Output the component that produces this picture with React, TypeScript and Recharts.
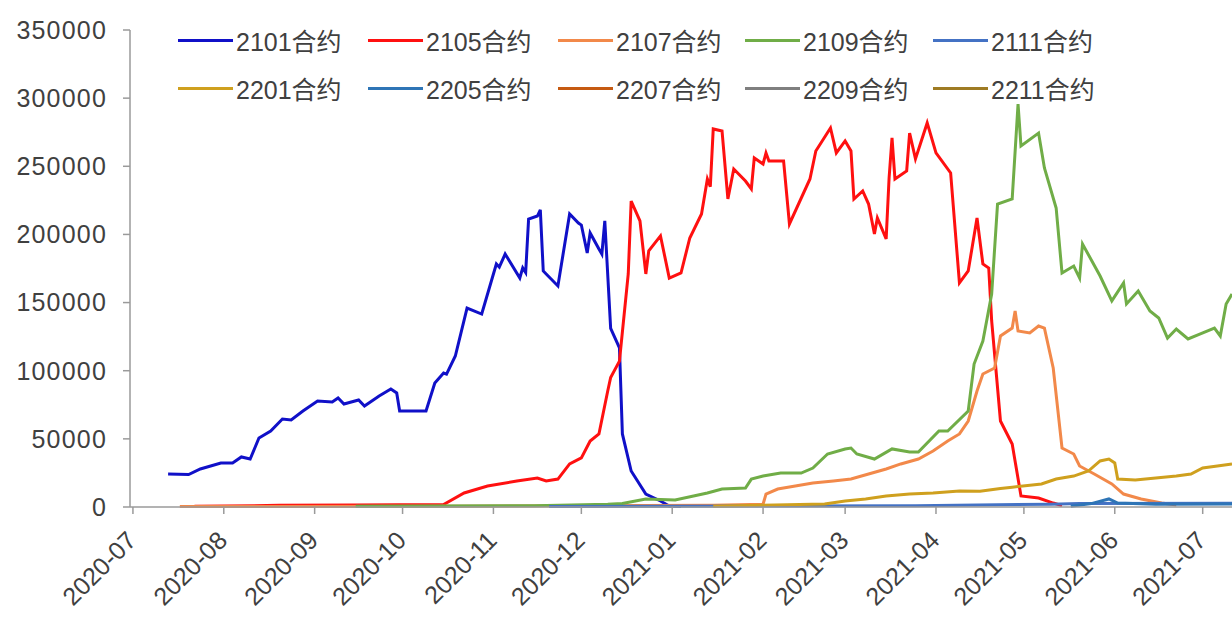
import { LineChart, Line, XAxis, YAxis } from "recharts";

type Pt = [string, number];

const contracts = ["2101合约", "2105合约", "2107合约", "2109合约", "2111合约", "2201合约", "2205合约", "2207合约", "2209合约", "2211合约"];
const colors = ["#1010c8", "#ff1010", "#f2894a", "#70ad47", "#4472c4", "#cfa01e", "#2e75b6", "#c55a11", "#7f7f7f", "#9e7b23"];

const monthTicks = ["2020-07", "2020-08", "2020-09", "2020-10", "2020-11", "2020-12", "2021-01", "2021-02", "2021-03", "2021-04", "2021-05", "2021-06", "2021-07"];
const yTicks = [0, 50000, 100000, 150000, 200000, 250000, 300000, 350000];

const s2101: Pt[] = [
  ["2020-07-13", 24200], ["2020-07-20", 23800], ["2020-07-24", 27900], ["2020-07-31", 32300],
  ["2020-08-04", 32300], ["2020-08-07", 36700], ["2020-08-10", 35200], ["2020-08-13", 50600],
  ["2020-08-17", 55800], ["2020-08-21", 64600], ["2020-08-24", 63800], ["2020-08-28", 70400],
  ["2020-09-02", 77800], ["2020-09-07", 77000], ["2020-09-09", 80000], ["2020-09-11", 75600],
  ["2020-09-16", 78500], ["2020-09-18", 74100], ["2020-09-23", 81500], ["2020-09-27", 86600],
  ["2020-09-29", 83700], ["2020-09-30", 70400], ["2020-10-09", 70400], ["2020-10-12", 91000],
  ["2020-10-15", 98300], ["2020-10-16", 97500], ["2020-10-19", 110800], ["2020-10-23", 146000],
  ["2020-10-28", 141600], ["2020-11-02", 178300], ["2020-11-03", 176000], ["2020-11-05", 185600],
  ["2020-11-10", 168000], ["2020-11-11", 175400], ["2020-11-12", 172000], ["2020-11-13", 211300],
  ["2020-11-16", 213500], ["2020-11-17", 218000], ["2020-11-18", 173200], ["2020-11-19", 171000],
  ["2020-11-23", 162200], ["2020-11-27", 215000], ["2020-11-30", 208400], ["2020-12-01", 206900],
  ["2020-12-03", 186400], ["2020-12-04", 201100], ["2020-12-07", 189300], ["2020-12-08", 185600],
  ["2020-12-09", 209900], ["2020-12-11", 131000], ["2020-12-14", 116700], ["2020-12-15", 53600],
  ["2020-12-18", 26400], ["2020-12-23", 9500], ["2020-12-28", 4400], ["2020-12-31", 700],
  ["2021-01-04", 300],
];

const s2105: Pt[] = [
  ["2020-07-22", 500], ["2020-08-20", 1200], ["2020-09-15", 1500], ["2020-10-15", 1800],
  ["2020-10-22", 10300], ["2020-10-30", 15400], ["2020-11-09", 19100], ["2020-11-16", 21300],
  ["2020-11-19", 19100], ["2020-11-23", 20500], ["2020-11-27", 31600], ["2020-12-01", 36000],
  ["2020-12-04", 48400], ["2020-12-07", 53600], ["2020-12-10", 85100], ["2020-12-11", 95000],
  ["2020-12-14", 107000], ["2020-12-17", 171000], ["2020-12-18", 224500], ["2020-12-21", 209900],
  ["2020-12-23", 171000], ["2020-12-24", 187900], ["2020-12-28", 198900], ["2020-12-31", 168000],
  ["2021-01-04", 171700], ["2021-01-07", 197400], ["2021-01-11", 215000], ["2021-01-13", 240700],
  ["2021-01-14", 235000], ["2021-01-15", 277400], ["2021-01-18", 275900], ["2021-01-20", 226000],
  ["2021-01-22", 248000], ["2021-01-26", 239200], ["2021-01-28", 233400], ["2021-01-29", 256100],
  ["2021-02-01", 251700], ["2021-02-02", 259800], ["2021-02-03", 253900], ["2021-02-08", 253900],
  ["2021-02-10", 207700], ["2021-02-17", 240700], ["2021-02-19", 261200], ["2021-02-24", 278100],
  ["2021-02-26", 259800], ["2021-03-01", 268600], ["2021-03-03", 261200], ["2021-03-04", 226000],
  ["2021-03-07", 231900], ["2021-03-09", 222300], ["2021-03-11", 200300], ["2021-03-12", 212100],
  ["2021-03-15", 196700], ["2021-03-16", 241400], ["2021-03-17", 270800], ["2021-03-18", 240700],
  ["2021-03-22", 246600], ["2021-03-23", 274400], ["2021-03-25", 255400], ["2021-03-29", 281800],
  ["2021-04-01", 259800], ["2021-04-06", 245100], ["2021-04-09", 164400], ["2021-04-12", 173200],
  ["2021-04-15", 212100], ["2021-04-17", 178300], ["2021-04-19", 175400], ["2021-04-20", 136500],
  ["2021-04-23", 63100], ["2021-04-27", 46200], ["2021-04-30", 8100], ["2021-05-06", 6600],
  ["2021-05-11", 2900], ["2021-05-14", 1000],
];

const s2107: Pt[] = [
  ["2020-07-17", 300], ["2020-10-15", 600], ["2021-01-15", 1200], ["2021-02-01", 2000],
  ["2021-02-02", 9500], ["2021-02-06", 13200], ["2021-02-12", 15400], ["2021-02-18", 17600],
  ["2021-02-25", 19100], ["2021-03-03", 20500], ["2021-03-09", 24200], ["2021-03-15", 27900],
  ["2021-03-20", 31600], ["2021-03-26", 35200], ["2021-03-31", 41100], ["2021-04-05", 48400],
  ["2021-04-09", 53600], ["2021-04-12", 63100], ["2021-04-15", 85100], ["2021-04-17", 97600],
  ["2021-04-21", 102000], ["2021-04-23", 125500], ["2021-04-27", 131300], ["2021-04-28", 143800],
  ["2021-04-29", 129100], ["2021-05-03", 127700], ["2021-05-06", 132800], ["2021-05-08", 131300],
  ["2021-05-11", 102000], ["2021-05-14", 43300], ["2021-05-18", 38900], ["2021-05-20", 30100],
  ["2021-05-25", 24200], ["2021-05-31", 16900], ["2021-06-04", 9500], ["2021-06-10", 5900],
  ["2021-06-17", 2900], ["2021-06-22", 1500],
];

const s2109: Pt[] = [
  ["2020-09-15", 500], ["2020-11-15", 900], ["2020-12-10", 2000], ["2020-12-15", 2500],
  ["2020-12-23", 5900], ["2021-01-02", 5100], ["2021-01-13", 10300], ["2021-01-18", 13200],
  ["2021-01-26", 13900], ["2021-01-28", 20500], ["2021-02-01", 22700], ["2021-02-07", 24900],
  ["2021-02-14", 24900], ["2021-02-18", 28600], ["2021-02-23", 38900], ["2021-03-01", 42600],
  ["2021-03-03", 43300], ["2021-03-05", 38900], ["2021-03-11", 35200], ["2021-03-17", 42600],
  ["2021-03-23", 40400], ["2021-03-26", 40400], ["2021-04-02", 55800], ["2021-04-05", 55800],
  ["2021-04-12", 70400], ["2021-04-14", 104900], ["2021-04-17", 121800], ["2021-04-20", 156300],
  ["2021-04-22", 222300], ["2021-04-27", 226000], ["2021-04-29", 295700], ["2021-04-30", 264900],
  ["2021-05-06", 274400], ["2021-05-08", 248800], ["2021-05-12", 219400], ["2021-05-14", 171700],
  ["2021-05-18", 176800], ["2021-05-20", 168000], ["2021-05-21", 193000], ["2021-05-27", 169500],
  ["2021-05-31", 151200], ["2021-06-04", 164400], ["2021-06-05", 149000], ["2021-06-09", 158500],
  ["2021-06-13", 143800], ["2021-06-16", 138700], ["2021-06-19", 124000], ["2021-06-22", 130600],
  ["2021-06-26", 123300], ["2021-06-30", 126900], ["2021-07-05", 131300], ["2021-07-07", 125500],
  ["2021-07-09", 149000], ["2021-07-11", 156300],
];

const s2111: Pt[] = [
  ["2020-11-20", 300], ["2021-03-25", 1000], ["2021-05-10", 2000], ["2021-05-20", 2500],
  ["2021-07-11", 2800],
];

const s2201: Pt[] = [
  ["2021-01-15", 500], ["2021-02-22", 2200], ["2021-03-01", 4400], ["2021-03-08", 5900],
  ["2021-03-15", 8100], ["2021-03-23", 9500], ["2021-03-31", 10300], ["2021-04-09", 11700],
  ["2021-04-16", 11500], ["2021-04-23", 13500], ["2021-04-27", 14500], ["2021-05-07", 16900],
  ["2021-05-12", 20500], ["2021-05-18", 22700], ["2021-05-23", 26400], ["2021-05-27", 33800],
  ["2021-05-30", 35200], ["2021-06-01", 32300], ["2021-06-02", 20500], ["2021-06-08", 19800],
  ["2021-06-15", 21300], ["2021-06-22", 22700], ["2021-06-27", 24200], ["2021-07-01", 28600],
  ["2021-07-06", 30100], ["2021-07-11", 31600],
];

const s2205: Pt[] = [
  ["2021-05-17", 500], ["2021-05-24", 2500], ["2021-05-30", 5900], ["2021-06-02", 2900],
  ["2021-06-15", 2000], ["2021-07-11", 2200],
];

const s2207: Pt[] = [];
const s2209: Pt[] = [];
const s2211: Pt[] = [];

const series = [s2101, s2105, s2107, s2109, s2111, s2201, s2205, s2207, s2209, s2211];

const toT = (s: string) => Date.parse(s.length === 7 ? s + "-01T00:00:00Z" : s + "T00:00:00Z");
const xDomain = [toT("2020-06-30"), toT("2021-07-11")];

const legendCols = [178, 368, 558, 745, 933];
const legendRows = [40, 88];
const font = '"Liberation Sans", Arial, "Noto Sans CJK SC", sans-serif';
const textColor = "#404040";

function MonthTick(props: any) {
  const { x, y, payload } = props;
  const d = new Date(payload.value);
  const label = `${d.getUTCFullYear()}-${String(d.getUTCMonth() + 1).padStart(2, "0")}`;
  return (
    <text
      transform={`translate(${x + 5},${y + 26}) rotate(-45)`}
      textAnchor="end"
      fontSize={25}
      fontFamily={font}
      fill={textColor}
    >
      {label}
    </text>
  );
}

function ChartLegend() {
  return (
    <div style={{ position: "absolute", left: 0, top: 0, width: 1232, height: 110, pointerEvents: "none" }}>
      {contracts.map((name, i) => (
        <div
          key={name}
          style={{
            position: "absolute",
            left: legendCols[i % 5],
            top: legendRows[Math.floor(i / 5)] - 15,
            height: 30,
            display: "flex",
            alignItems: "center",
            fontFamily: font,
            fontSize: 25,
            color: textColor,
            whiteSpace: "nowrap",
          }}
        >
          <span style={{ display: "inline-block", width: 55, height: 3, background: colors[i], marginRight: 3 }} />
          {name}
        </div>
      ))}
    </div>
  );
}

export default function App() {
  return (
    <div style={{ position: "absolute", left: 0, top: 0, width: 1232, height: 619, background: "#fff" }}>
      <LineChart width={1232} height={619} margin={{ top: 30, right: 0, bottom: 0, left: 0 }}>
        <XAxis
          type="number"
          dataKey="t"
          domain={xDomain}
          allowDataOverflow
          ticks={monthTicks.map(toT)}
          interval={0}
          tick={<MonthTick />}
          tickSize={7}
          height={112}
          stroke="#9a9a9a"
          strokeWidth={1.5}
        />
        <YAxis
          type="number"
          domain={[0, 350000]}
          ticks={yTicks}
          interval={0}
          width={130}
          tickSize={7}
          tickMargin={16}
          stroke="#9a9a9a"
          strokeWidth={1.5}
          tick={{ fontSize: 25, fontFamily: font, fill: textColor, letterSpacing: 1.2 }}
        />
        {series.map((s, i) => (
          <Line
            key={contracts[i]}
            name={contracts[i]}
            data={s.map(([d, v]) => ({ t: toT(d), v }))}
            dataKey="v"
            type="linear"
            stroke={colors[i]}
            strokeWidth={3}
            dot={false}
            activeDot={false}
            isAnimationActive={false}
          />
        ))}
      </LineChart>
      <ChartLegend />
    </div>
  );
}
